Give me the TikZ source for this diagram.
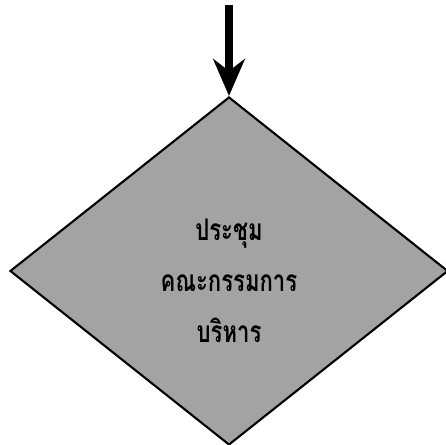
\documentclass[tikz,border=0pt]{standalone}
\usepackage{fontspec}
\newfontfamily\thaifont[Script=Thai,FakeStretch=0.74]{Loma}
\usetikzlibrary{arrows.meta,calc,shapes.geometric}

\tikzset{
  decision/.style={diamond, draw=black, line width=1.2pt, fill=gray!72,
    inner sep=0pt, minimum width=438*0.02cm, minimum height=348*0.02cm},
  thaitext/.style={align=center, text=black,
    font={\thaifont\bfseries\fontsize{17}{29}\selectfont}},
  flow/.style={line width=4.5pt, -{Stealth[length=21pt,width=18pt]}}
}

\begin{document}
\begin{tikzpicture}[x=0.02cm, y=-0.02cm]

  % frame of the page
  \useasboundingbox (0,0) rectangle (446,445);

  % === Decision box ===
  \node[decision] (meeting) at (229,271) {};
  \node[thaitext] (meetingtext) at ($(meeting.center)+(0,10)$)
    {ประชุม\\คณะกรรมการ\\บริหาร};

  % === Incoming arrow ===
  \coordinate (start) at (229,5);
  \draw[flow] (start) -- (meeting.north);

\end{tikzpicture}
\end{document}
